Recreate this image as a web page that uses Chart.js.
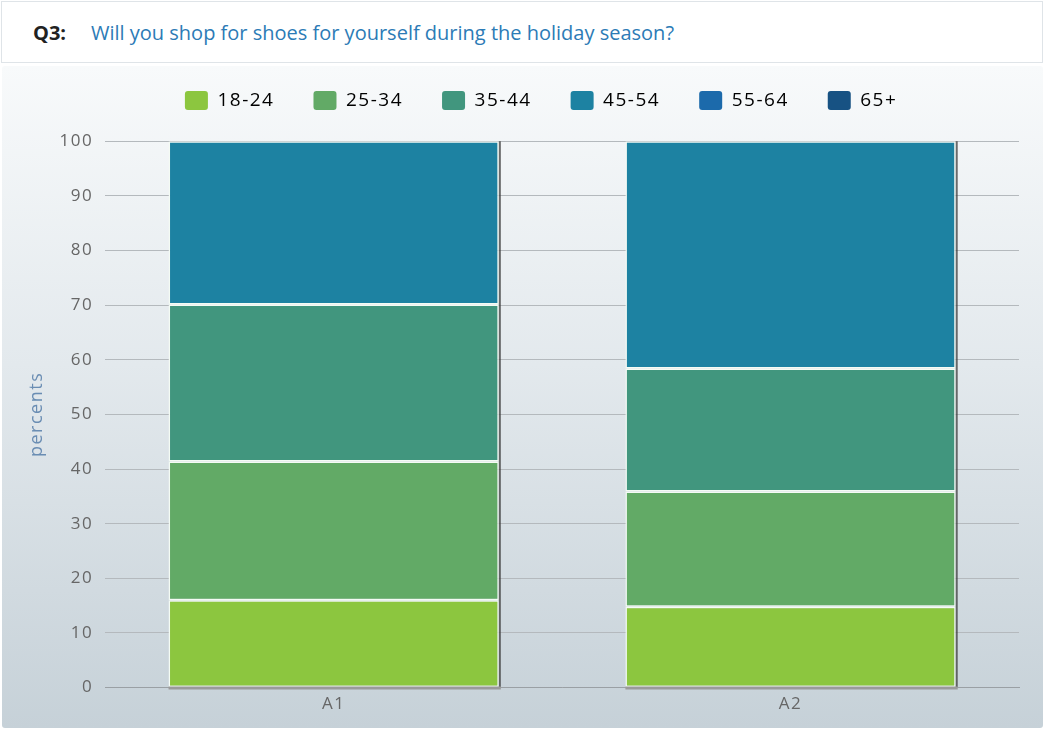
<!DOCTYPE html>
<html>
<head>
<meta charset="utf-8">
<script src="https://cdn.jsdelivr.net/npm/chart.js@4/dist/chart.umd.min.js"></script>
<style>
  html, body { margin: 0; padding: 0; width: 1045px; height: 730px; overflow: hidden; background: #ffffff; }
  #titlebox {
    position: absolute; left: 1px; top: 1px; width: 1042px; height: 62px;
    background: #ffffff; border: 1px solid #dfe4e8; box-sizing: border-box;
    font-family: "Open Sans", "DejaVu Sans", sans-serif; font-size: 20px;
  }
  #q { position: absolute; left: 31px; top: 17px; font-weight: bold; color: #222; }
  #qt { position: absolute; left: 89px; top: 17px; color: #2c7bb6; }
  #panel {
    position: absolute; left: 2px; top: 66px; width: 1041px; height: 662px;
    background: linear-gradient(to bottom, #f8fafb 0%, #e3e9ed 45%, #c6d1d8 100%);
    border-radius: 3px;
  }
  #wrap { position: absolute; left: 2px; top: 52px; width: 1041px; height: 676px; }
</style>
</head>
<body>
<div id="titlebox"><span id="q">Q3:</span><span id="qt">Will you shop for shoes for yourself during the holiday season?</span></div>
<div id="panel"></div>
<div id="wrap"><canvas id="c"></canvas></div>
<script>
const categories = ["A1", "A2"];
const seriesNames = ["18-24", "25-34", "35-44", "45-54", "55-64", "65+"];
const s18_24 = [16.0, 14.8];
const s25_34 = [25.4, 21.1];
const s35_44 = [28.7, 22.5];
const s45_54 = [29.9, 41.6];
const s55_64 = [0, 0];
const s65plus = [0, 0];
const seriesColors = ["#8cc63f", "#62aa66", "#41967e", "#1d82a2", "#1c6aab", "#175283"];
const yTicks = [0, 10, 20, 30, 40, 50, 60, 70, 80, 90, 100];

const seriesValues = [s18_24, s25_34, s35_44, s45_54, s55_64, s65plus];
const FONT = "'Open Sans', 'DejaVu Sans', sans-serif";

const spacing = {
  id: 'spacing',
  beforeUpdate(chart) { chart.ctx.letterSpacing = '1.5px'; },
  beforeDraw(chart) { chart.ctx.letterSpacing = '1.5px'; }
};

// nudge the legend row slightly left, as in the original layout
const legendShift = {
  id: 'legendShift',
  afterLayout(chart) {
    const lg = chart.legend;
    if (lg) { lg.left -= 21; lg.right -= 21; }
  }
};

const rightShadow = {
  id: 'rightShadow',
  afterDatasetsDraw(chart) {
    const ctx = chart.ctx;
    ctx.save();
    const n = chart.data.labels.length;
    for (let i = 0; i < n; i++) {
      let top = null, bottom = null, right = null;
      chart.data.datasets.forEach((ds, di) => {
        const el = chart.getDatasetMeta(di).data[i];
        if (!el || !ds.data[i]) return;
        const p = el.getProps(['x', 'y', 'base', 'width'], true);
        const t = Math.min(p.y, p.base), b = Math.max(p.y, p.base);
        top = top === null ? t : Math.min(top, t);
        bottom = bottom === null ? b : Math.max(bottom, b);
        right = p.x + p.width / 2;
      });
      if (top === null) continue;
      ctx.strokeStyle = 'rgba(60,60,60,0.75)';
      ctx.lineWidth = 2;
      ctx.beginPath();
      ctx.moveTo(right + 1, top);
      ctx.lineTo(right + 1, bottom);
      ctx.stroke();
      ctx.strokeStyle = '#9a9a9a';
      ctx.lineWidth = 3;
      ctx.beginPath();
      const el0 = chart.getDatasetMeta(0).data[i];
      const w = el0.width;
      ctx.moveTo(el0.x - w / 2, bottom + 1);
      ctx.lineTo(el0.x + w / 2 + 2, bottom + 1);
      ctx.stroke();
    }
    ctx.restore();
  }
};

new Chart(document.getElementById('c'), {
  type: 'bar',
  data: {
    labels: categories,
    datasets: seriesNames.map((name, i) => ({
      label: name,
      data: seriesValues[i],
      backgroundColor: seriesColors[i],
      borderColor: '#f4fbf4',
      borderWidth: (ctx) => (ctx.raw ? 1.5 : 0),
      borderSkipped: false,
      categoryPercentage: 0.723,
      barPercentage: 1.0
    }))
  },
  options: {
    responsive: true,
    maintainAspectRatio: false,
    animation: false,
    layout: { padding: { top: 0, right: 24, bottom: 8, left: 13 } },
    plugins: {
      legend: {
        position: 'top',
        fullSize: false,
        labels: {
          font: { family: FONT, size: 19 },
          color: '#555',
          boxWidth: 23,
          boxHeight: 19,
          padding: 39,
          useBorderRadius: true,
          borderRadius: 3,
          generateLabels(chart) {
            return chart.data.datasets.map((ds, i) => ({
              text: ds.label,
              fillStyle: ds.backgroundColor,
              strokeStyle: ds.backgroundColor,
              lineWidth: 0,
              borderRadius: 3,
              datasetIndex: i,
              hidden: false
            }));
          }
        }
      },
      subtitle: {
        display: true,
        text: '',
        weight: 500,
        font: { size: 1 },
        padding: { top: 0, bottom: 20 }
      },
      tooltip: { enabled: false }
    },
    scales: {
      x: {
        stacked: true,
        grid: { display: false, drawTicks: false },
        border: { display: true, color: '#9aa0a4', width: 1 },
        ticks: { font: { family: FONT, size: 17 }, color: '#666', padding: 6 }
      },
      y: {
        stacked: true,
        min: 0,
        max: 100,
        afterBuildTicks(scale) { scale.ticks = yTicks.map(v => ({ value: v })); },
        grid: { color: '#b4b9bd', drawTicks: false },
        border: { display: false },
        ticks: { font: { family: FONT, size: 17 }, color: '#666', padding: 12 },
        title: {
          display: true,
          text: 'percents',
          color: '#6a8db3',
          font: { family: FONT, size: 18 },
          padding: { top: 11, bottom: 0 }
        }
      }
    }
  },
  plugins: [spacing, legendShift, rightShadow]
});
</script>
</body>
</html>
